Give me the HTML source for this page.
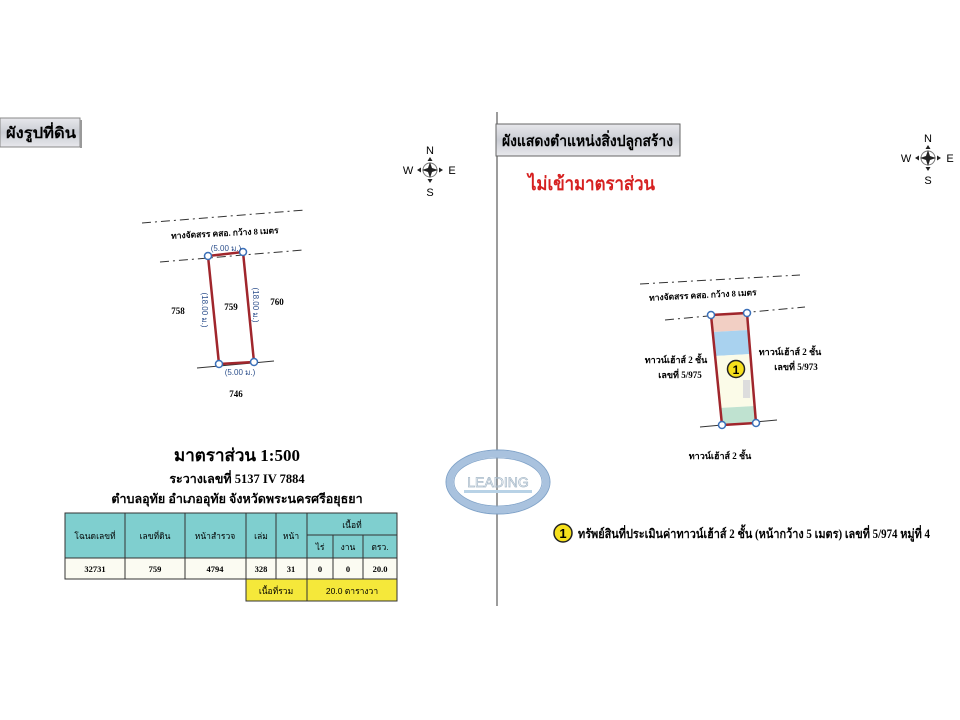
<!DOCTYPE html>
<html><head><meta charset="utf-8"><style>
html,body{margin:0;padding:0;background:#fff;width:960px;height:720px;overflow:hidden}
svg{display:block}
text{font-family:"Liberation Serif","Noto Serif CJK SC","Noto Sans CJK SC",serif;font-weight:bold}
.s{font-family:"Liberation Sans","Noto Sans CJK SC",sans-serif;font-weight:normal}
</style></head><body>
<svg width="960" height="720" viewBox="0 0 960 720" xmlns="http://www.w3.org/2000/svg">
<defs>
<linearGradient id="hg" x1="0" y1="0" x2="0" y2="1"><stop offset="0" stop-color="#e8e8ec"/><stop offset="0.5" stop-color="#c9ccd3"/><stop offset="1" stop-color="#e8e8ec"/></linearGradient>
<g id="comp">
<circle cx="0" cy="0" r="7" fill="none" stroke="#777" stroke-width="1"/>
<polygon points="0,-8 2,-2 8,0 2,2 0,8 -2,2 -8,0 -2,-2" fill="#222"/>
<polygon points="0,-13 -2.5,-9 2.5,-9" fill="#222"/>
<polygon points="0,13 -2.5,9 2.5,9" fill="#222"/>
<polygon points="-13,0 -9,-2.5 -9,2.5" fill="#222"/>
<polygon points="13,0 9,-2.5 9,2.5" fill="#222"/>
<text class="s" x="0" y="-16" font-size="11" text-anchor="middle">N</text>
<text class="s" x="0" y="26" font-size="11" text-anchor="middle">S</text>
<text class="s" x="-22" y="4" font-size="11" text-anchor="middle">W</text>
<text class="s" x="22" y="4" font-size="11" text-anchor="middle">E</text>
</g>
</defs>

<line x1="497" y1="112" x2="497" y2="606" stroke="#666" stroke-width="1.3"/>

<rect x="0" y="118" width="80" height="29" fill="url(#hg)" stroke="#888" stroke-width="1"/>
<rect x="80" y="120" width="2" height="28" fill="#999"/>
<text x="6" y="138" font-size="15" textLength="70" lengthAdjust="spacingAndGlyphs" class="s" style="font-weight:bold">ผังรูปที่ดิน</text>
<use href="#comp" x="430" y="170"/>

<rect x="496" y="124" width="184" height="32" fill="url(#hg)" stroke="#666" stroke-width="1"/>
<text x="502" y="146" font-size="15" textLength="171" lengthAdjust="spacingAndGlyphs" class="s" style="font-weight:bold">ผังแสดงตำแหน่งสิ่งปลูกสร้าง</text>
<text x="528" y="190" font-size="19" textLength="127" lengthAdjust="spacingAndGlyphs" fill="#d62020" class="s" style="font-weight:bold">ไม่เข้ามาตราส่วน</text>
<use href="#comp" x="928" y="158"/>

<!-- left plot -->
<line x1="142" y1="223" x2="305" y2="210" stroke="#333" stroke-width="1" stroke-dasharray="9,4,2,4"/>
<line x1="160" y1="262" x2="303" y2="250" stroke="#333" stroke-width="1" stroke-dasharray="9,4,2,4"/>
<text x="225" y="236" font-size="8.5" text-anchor="middle" transform="rotate(-3 225 236)">ทางจัดสรร คสอ. กว้าง 8 เมตร</text>
<line x1="197" y1="368" x2="274" y2="361" stroke="#333" stroke-width="1"/>
<polygon points="208,256 243,252 254,362 219,364" fill="none" stroke="#a0262c" stroke-width="2.5"/>
<g fill="#fff" stroke="#3a6fb8" stroke-width="1.5">
<circle cx="208" cy="256" r="3.5"/><circle cx="243" cy="252" r="3.5"/><circle cx="254" cy="362" r="3.5"/><circle cx="219" cy="364" r="3.5"/></g>
<g fill="#2c4f8c" font-size="8">
<text x="226" y="251" text-anchor="middle" class="s" fill="#2c4f8c">(5.00 ม.)</text>
<text x="240" y="375" text-anchor="middle" class="s" fill="#2c4f8c">(5.00 ม.)</text>
<text x="202" y="310" text-anchor="middle" class="s" fill="#2c4f8c" transform="rotate(90 202 310)">(18.00 ม.)</text>
<text x="253" y="305" text-anchor="middle" class="s" fill="#2c4f8c" transform="rotate(90 253 305)">(18.00 ม.)</text>
</g>
<g font-size="9" text-anchor="middle">
<text x="178" y="314">758</text><text x="231" y="310">759</text><text x="277" y="305">760</text><text x="236" y="397">746</text>
</g>

<text x="237" y="461" font-size="17" text-anchor="middle">มาตราส่วน 1:500</text>
<text x="237" y="483" font-size="12.5" text-anchor="middle">ระวางเลขที่ 5137 IV 7884</text>
<text x="237" y="503" font-size="12.5" text-anchor="middle">ตำบลอุทัย อำเภออุทัย จังหวัดพระนครศรีอยุธยา</text>

<g stroke="#333" stroke-width="1">
<rect x="65" y="513" width="332" height="45" fill="#7fcfcf"/>
<rect x="65" y="558" width="332" height="21" fill="#fbfbf2"/>
<rect x="246" y="579" width="151" height="22" fill="#f5e83a"/>
<line x1="125" y1="513" x2="125" y2="579"/><line x1="185" y1="513" x2="185" y2="579"/>
<line x1="246" y1="513" x2="246" y2="601"/><line x1="276" y1="513" x2="276" y2="579"/>
<line x1="307" y1="513" x2="307" y2="601"/><line x1="333" y1="535" x2="333" y2="579"/>
<line x1="363" y1="535" x2="363" y2="579"/><line x1="307" y1="535" x2="397" y2="535"/>
<line x1="65" y1="558" x2="397" y2="558"/>
</g>
<g font-size="8.5" text-anchor="middle">
<text x="95" y="539" class="s">โฉนดเลขที่</text><text x="155" y="539" class="s">เลขที่ดิน</text><text x="215" y="539" class="s">หน้าสำรวจ</text>
<text x="261" y="539" class="s">เล่ม</text><text x="291" y="539" class="s">หน้า</text><text x="352" y="528" class="s">เนื้อที่</text>
<text x="320" y="550" class="s">ไร่</text><text x="348" y="550" class="s">งาน</text><text x="380" y="550" class="s">ตรว.</text>
</g>
<g font-size="8.5" text-anchor="middle">
<text x="95" y="572">32731</text><text x="155" y="572">759</text><text x="215" y="572">4794</text><text x="261" y="572">328</text><text x="291" y="572">31</text>
<text x="320" y="572">0</text><text x="348" y="572">0</text><text x="380" y="572">20.0</text>
<text x="276" y="594" class="s">เนื้อที่รวม</text><text x="352" y="594" class="s">20.0 ตารางวา</text>
</g>

<!-- logo -->
<ellipse cx="498" cy="482" rx="48" ry="28" fill="none" stroke="#a9c2de" stroke-width="7"/>
<ellipse cx="498" cy="482" rx="52" ry="32" fill="none" stroke="#7fa2c8" stroke-width="1"/>
<ellipse cx="498" cy="482" rx="44" ry="24" fill="none" stroke="#7fa2c8" stroke-width="0.8"/>
<rect x="464" y="490" width="68" height="3" fill="#b8d2e6"/>
<text class="s" x="498" y="487" font-size="14" text-anchor="middle" fill="none" stroke="#a5b8c8" stroke-width="0.7">LEADING</text>

<!-- right plot -->
<line x1="640" y1="284" x2="800" y2="275" stroke="#333" stroke-width="1" stroke-dasharray="9,4,2,4"/>
<line x1="665" y1="320" x2="805" y2="307" stroke="#333" stroke-width="1" stroke-dasharray="9,4,2,4"/>
<text x="703" y="298" font-size="8.5" text-anchor="middle" transform="rotate(-3 703 298)">ทางจัดสรร คสอ. กว้าง 8 เมตร</text>
<line x1="700" y1="427" x2="777" y2="420" stroke="#333" stroke-width="1"/>
<polygon points="712,316 747,313 749,330 713,332" fill="#f2cfc4"/>
<polygon points="713,332 749,330 751,354 715,356" fill="#a9d2ef"/>
<polygon points="715,356 751,354 755,406 719,408" fill="#fbfbe8"/>
<polygon points="719,408 755,406 756,423 722,425" fill="#bfe2d0"/>
<rect x="743" y="380" width="7" height="18" fill="#ddd"/>
<polygon points="711,315 747,313 756,423 722,425" fill="none" stroke="#a0262c" stroke-width="2.5"/>
<g fill="#fff" stroke="#3a6fb8" stroke-width="1.5">
<circle cx="711" cy="315" r="3.5"/><circle cx="747" cy="313" r="3.5"/><circle cx="756" cy="423" r="3.5"/><circle cx="722" cy="425" r="3.5"/></g>
<circle cx="736" cy="369" r="8.5" fill="#f6e01c" stroke="#222" stroke-width="1.5"/>
<text class="s" x="736" y="374" font-size="12" text-anchor="middle" style="font-weight:bold">1</text>
<g font-size="9" text-anchor="middle">
<text x="676" y="363">ทาวน์เฮ้าส์ 2 ชั้น</text><text x="680" y="378">เลขที่ 5/975</text>
<text x="790" y="355">ทาวน์เฮ้าส์ 2 ชั้น</text><text x="796" y="370">เลขที่ 5/973</text>
<text x="720" y="459">ทาวน์เฮ้าส์ 2 ชั้น</text>
</g>

<circle cx="563" cy="533" r="9" fill="#f6e01c" stroke="#222" stroke-width="1.5"/>
<text class="s" x="563" y="538" font-size="13" text-anchor="middle" style="font-weight:bold">1</text>
<text x="578" y="538" font-size="12.5" textLength="352" lengthAdjust="spacingAndGlyphs">ทรัพย์สินที่ประเมินค่าทาวน์เฮ้าส์ 2 ชั้น (หน้ากว้าง 5 เมตร) เลขที่ 5/974 หมู่ที่ 4</text>
</svg>
</body></html>
